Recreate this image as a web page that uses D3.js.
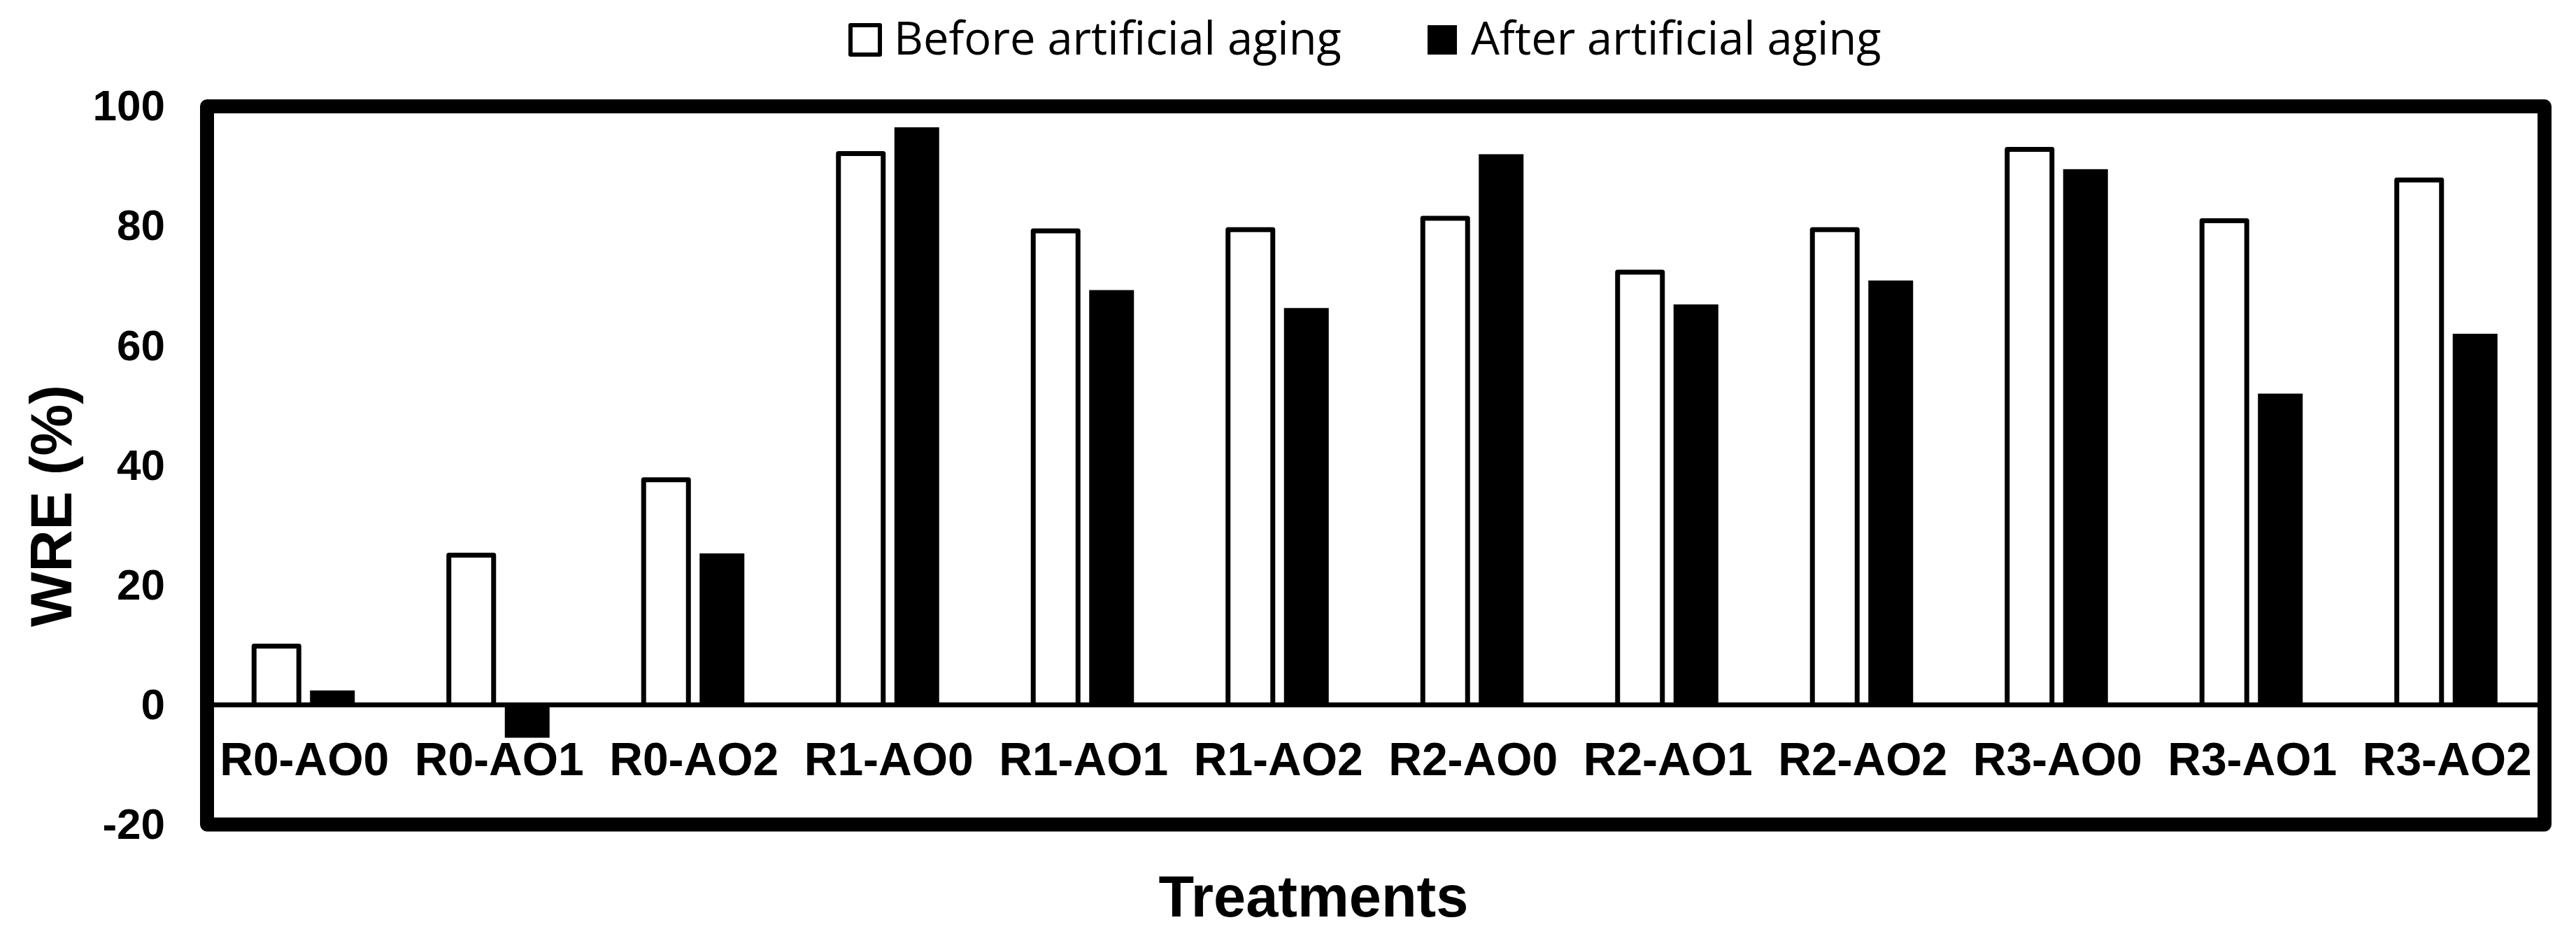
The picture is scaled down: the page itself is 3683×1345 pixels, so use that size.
<!DOCTYPE html>
<html>
<head>
<meta charset="utf-8">
<script src="https://cdn.jsdelivr.net/npm/d3@7"></script>
<style>
  html, body { margin: 0; padding: 0; background: #fff; }
  svg { display: block; }
</style>
</head>
<body>
<svg id="chart" width="3683" height="1345"></svg>
<script>
// ---- data ----
const categories = ["R0-AO0","R0-AO1","R0-AO2","R1-AO0","R1-AO1","R1-AO2","R2-AO0","R2-AO1","R2-AO2","R3-AO0","R3-AO1","R3-AO2"];
const seriesNames = ["Before artificial aging", "After artificial aging"];
const beforeAging = [9.8, 25.0, 37.6, 92.1, 79.2, 79.4, 81.3, 72.3, 79.4, 92.8, 80.9, 87.7];
const afterAging  = [2.4, -5.5, 25.3, 96.5, 69.3, 66.3, 92.0, 66.9, 70.9, 89.5, 52.0, 62.0];
const yTicks = [-20, 0, 20, 40, 60, 80, 100];
const yTitle = "WRE (%)";
const xTitle = "Treatments";

// ---- layout ----
const W = 3683, H = 1345;
const plot = { left: 296, right: 3638, top: 152, bottom: 1178.5 };
const svg = d3.select("#chart");
const boldFont = "'Liberation Sans', Arial, sans-serif";

const x = d3.scaleBand().domain(categories).range([plot.left, plot.right]).paddingInner(0).paddingOuter(0);
const bw = x.bandwidth();
const xSub = d3.scaleBand().domain(seriesNames).range([bw / 2 - 72, bw / 2 + 72]).paddingInner(0.2).paddingOuter(0);
const y = d3.scaleLinear().domain([-20, 100]).range([plot.bottom, plot.top]);

const rows = categories.map((c, i) => ({ cat: c, values: [
  { s: seriesNames[0], v: beforeAging[i] },
  { s: seriesNames[1], v: afterAging[i] }
]}));

// bars
const g = svg.append("g");
const groups = g.selectAll("g.cat").data(rows).join("g")
  .attr("class", "cat")
  .attr("transform", d => `translate(${x(d.cat)},0)`);

groups.selectAll("rect").data(d => d.values).join("rect")
  .attr("x", d => xSub(d.s))
  .attr("width", xSub.bandwidth())
  .attr("y", d => Math.min(y(d.v), y(0)))
  .attr("height", d => Math.abs(y(d.v) - y(0)))
  .attr("fill", d => d.s === seriesNames[0] ? "#fff" : "#000")
  .attr("stroke", d => d.s === seriesNames[0] ? "#000" : "none")
  .attr("stroke-width", 7)
  .attr("stroke-linejoin", "round");

// zero line
svg.append("line")
  .attr("x1", plot.left).attr("x2", plot.right)
  .attr("y1", y(0)).attr("y2", y(0))
  .attr("stroke", "#000").attr("stroke-width", 7);

// frame
svg.append("rect")
  .attr("x", plot.left).attr("y", plot.top)
  .attr("width", plot.right - plot.left).attr("height", plot.bottom - plot.top)
  .attr("fill", "none").attr("stroke", "#000").attr("stroke-width", 20)
  .attr("stroke-linejoin", "round");

// y axis labels
const yAxis = d3.axisLeft(y).tickValues(yTicks).tickSize(0).tickPadding(60).tickFormat(d => String(d));
const yg = svg.append("g").attr("transform", `translate(${plot.left},0)`).call(yAxis);
yg.select(".domain").remove();
yg.selectAll("text")
  .attr("font-family", boldFont).attr("font-weight", "bold")
  .attr("font-size", 62).attr("fill", "#000");

// x axis labels
const xAxis = d3.axisBottom(x).tickSize(0);
const xg = svg.append("g").call(xAxis);
xg.select(".domain").remove();
xg.selectAll("text")
  .attr("y", 1108).attr("dy", null)
  .attr("font-family", boldFont).attr("font-weight", "bold")
  .attr("font-size", 66).attr("fill", "#000");

// axis titles
svg.append("text")
  .attr("transform", "translate(102,723) rotate(-90)")
  .attr("text-anchor", "middle")
  .attr("font-family", boldFont).attr("font-weight", "bold").attr("font-size", 83)
  .text(yTitle);

svg.append("text")
  .attr("x", 1878).attr("y", 1310)
  .attr("text-anchor", "middle")
  .attr("font-family", boldFont).attr("font-weight", "bold").attr("font-size", 83)
  .text(xTitle);

// legend
const legendItems = [
  { name: seriesNames[0], bx: 1216, fill: "#fff", stroke: "#000" },
  { name: seriesNames[1], bx: 2041, fill: "#000", stroke: "none" }
];
const lg = svg.append("g");
legendItems.forEach(it => {
  lg.append("rect")
    .attr("x", it.bx).attr("y", 36).attr("width", 42).attr("height", 42)
    .attr("fill", it.fill).attr("stroke", it.stroke).attr("stroke-width", 6)
    .attr("stroke-linejoin", "round");
  lg.append("text")
    .attr("x", it.bx + 42 + 20).attr("y", 78)
    .attr("font-family", "'Open Sans', sans-serif").attr("font-size", 65).attr("fill", "#000")
    .text(it.name);
});
</script>
</body>
</html>
